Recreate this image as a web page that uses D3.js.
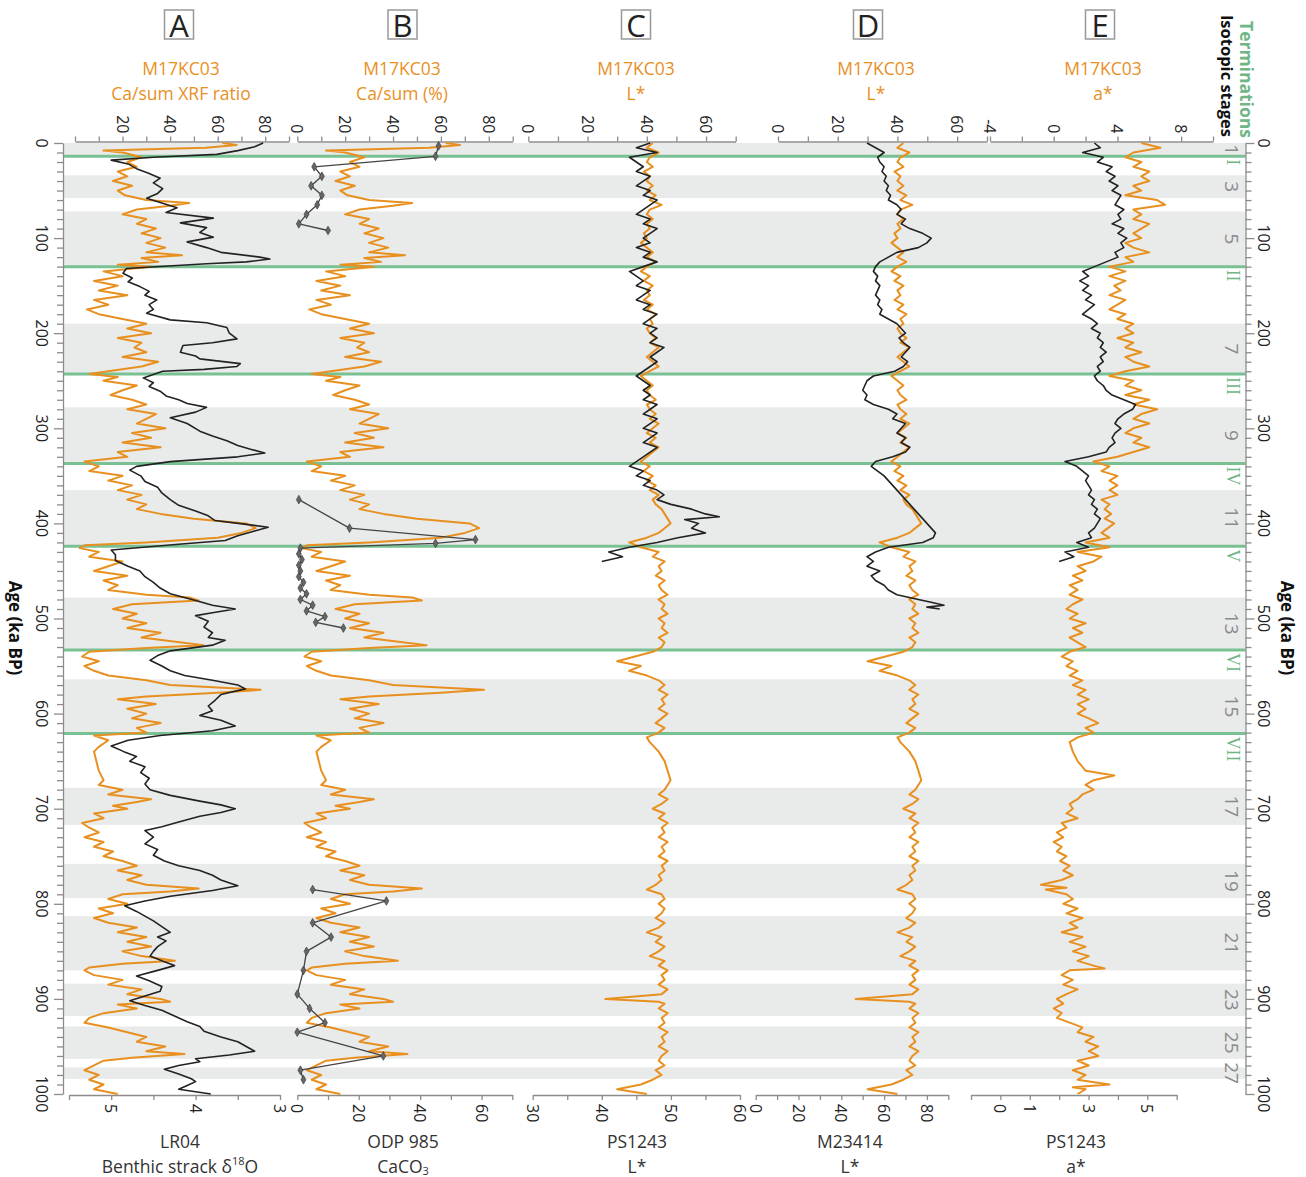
<!DOCTYPE html>
<html><head><meta charset="utf-8">
<script src="https://cdn.jsdelivr.net/npm/d3@7"></script>
<style>body{margin:0;background:#fff}svg{display:block}text{font-family:"Open Sans",sans-serif}</style>
</head><body><svg id="c" width="1306" height="1177"></svg>
<script>
// ---------------- DATA ----------------
const ageTicks = [0,100,200,300,400,500,600,700,800,900,1000];
const stageLabels = ["1","3","5","7","9","11","13","15","17","19","21","23","25","27"];
const stageBounds = [[0,14],[34,58],[72,130],[190,243],[278,337],[365,424],[478,533],[564,621],[678,717],[758,794],[813,870],[884,918],[929,963],[972,984]];
const terminationLabels = ["I","II","III","IV","V","VI","VII"];
const terminationAges = [14,130,243,337,424,533,621];

// M17KC03 Ca/sum (%) [age ka, value]
const caSum = [[0,62],[2,68],[5,55],[8,12],[10,20],[15,28],[20,22],[25,26],[30,18],[35,22],[40,16],[45,24],[50,18],[55,21],[60,30],[63,48],[66,40],[70,26],[75,20],[80,30],[85,26],[90,34],[95,28],[100,36],[105,30],[110,38],[115,30],[118,45],[121,28],[125,35],[128,18],[130,32],[135,12],[140,20],[145,8],[150,18],[155,10],[160,22],[165,8],[170,14],[175,5],[180,10],[185,20],[190,30],[195,22],[200,32],[205,18],[210,28],[215,25],[220,30],[225,20],[230,35],[235,28],[240,14],[243,6],[246,18],[250,12],[255,26],[260,20],[265,15],[270,24],[275,30],[280,22],[285,34],[290,30],[295,26],[300,38],[305,24],[310,32],[315,20],[320,36],[325,18],[330,22],[335,4],[340,10],[345,6],[350,20],[355,14],[360,24],[365,18],[370,28],[375,22],[380,30],[385,26],[390,36],[395,50],[400,72],[405,76],[410,70],[415,60],[420,30],[423,4],[426,2],[430,10],[435,6],[440,20],[445,14],[450,8],[455,22],[460,12],[465,18],[470,14],[475,30],[478,48],[481,52],[485,24],[490,16],[495,26],[500,20],[505,30],[510,22],[515,36],[520,28],[525,44],[528,54],[531,30],[535,6],[540,3],[545,10],[550,4],[555,8],[560,14],[565,30],[570,40],[575,78],[578,60],[582,30],[585,18],[590,34],[595,22],[600,30],[605,24],[610,36],[615,26],[620,30],[623,8],[628,14],[635,10],[640,8],[650,9],[660,10],[670,12],[675,10],[680,20],[685,14],[690,32],[693,26],[697,16],[700,22],[705,8],[710,12],[715,3],[720,6],[725,10],[730,4],[735,12],[740,8],[745,16],[750,12],[755,20],[760,26],[765,18],[770,28],[775,22],[780,30],[784,52],[787,40],[790,20],[795,14],[800,22],[805,10],[810,16],[815,8],[820,14],[825,26],[830,18],[835,30],[840,22],[845,32],[850,20],[855,28],[860,42],[863,20],[867,6],[870,4],[875,8],[880,20],[885,14],[890,28],[895,22],[900,36],[903,40],[906,18],[910,26],[915,12],[920,6],[925,4],[930,14],[935,22],[940,30],[945,26],[950,38],[955,30],[958,46],[962,24],[965,12],[970,8],[975,4],[980,10],[985,6],[990,12],[995,8],[1000,18]];

// M17KC03 L*
const lStar = [[0,42],[5,40],[10,44],[15,41],[20,40],[25,42],[30,39],[35,41],[40,40],[45,42],[50,40],[55,43],[60,41],[65,45],[70,41],[75,40],[80,42],[85,40],[90,41],[95,39],[100,40],[105,38],[110,40],[115,42],[120,40],[125,43],[130,40],[135,38],[140,41],[145,39],[150,42],[155,40],[160,41],[165,39],[170,42],[175,40],[180,43],[185,41],[190,42],[195,40],[200,41],[205,43],[210,41],[215,44],[220,42],[225,40],[230,42],[235,44],[240,41],[245,38],[250,40],[255,42],[260,40],[265,41],[270,43],[275,40],[280,41],[285,43],[290,41],[295,44],[300,42],[305,40],[310,43],[315,41],[320,44],[325,42],[330,40],[335,38],[340,41],[345,39],[350,42],[355,40],[360,43],[365,41],[370,44],[375,42],[380,43],[385,45],[390,46],[395,47],[400,48],[405,46],[410,44],[415,40],[420,34],[425,38],[430,44],[435,42],[440,46],[445,44],[450,45],[455,43],[460,46],[465,44],[470,45],[475,47],[480,44],[485,46],[490,45],[495,47],[500,44],[505,46],[510,45],[515,47],[520,44],[525,46],[530,45],[535,42],[540,36],[545,30],[550,38],[555,34],[560,40],[565,44],[570,46],[575,44],[580,47],[585,45],[590,46],[595,44],[600,47],[605,45],[610,43],[615,46],[620,44],[625,40],[630,41],[640,44],[650,46],[660,47],[670,48],[680,46],[685,44],[690,47],[695,45],[700,42],[705,46],[710,44],[715,47],[720,45],[725,46],[730,44],[735,47],[740,45],[745,46],[750,44],[755,47],[760,45],[765,46],[770,44],[775,45],[780,43],[785,40],[790,45],[795,46],[800,44],[805,46],[810,45],[815,43],[820,46],[825,44],[830,40],[835,45],[840,43],[845,46],[850,44],[855,41],[860,46],[865,44],[870,47],[875,45],[880,46],[885,44],[890,47],[895,45],[900,26],[903,44],[905,46],[910,44],[915,47],[920,45],[925,46],[930,44],[935,47],[940,45],[945,46],[950,44],[955,47],[960,45],[965,44],[970,46],[975,43],[980,45],[985,42],[990,38],[995,30],[1000,40]];

// M17KC03 a*
const aStar = [[0,5.5],[5,6.7],[10,5],[15,4.5],[20,5.5],[25,5],[30,6],[35,5.5],[40,6],[45,5],[50,5.5],[55,4.5],[60,6.5],[65,7],[70,5],[75,5.5],[80,5],[85,6],[90,5.5],[95,5],[100,5.5],[105,4.5],[110,5],[115,6],[120,4.5],[125,5],[130,3.5],[135,4.5],[140,3.5],[145,4.5],[150,3.8],[155,4.2],[160,3.5],[165,4.5],[170,4],[175,3.5],[180,4.5],[185,4],[190,5],[195,4.5],[200,5],[205,4],[210,5],[215,4.5],[220,5.5],[225,4.5],[230,5],[235,6],[240,4.5],[245,3.5],[250,5],[255,4.5],[260,5.5],[265,4.5],[270,6],[275,5],[280,6.5],[285,5.5],[290,5],[295,6],[300,5],[305,4.5],[310,5.5],[315,5],[320,6],[325,5],[330,4],[335,2.5],[340,3.5],[345,3],[350,4],[355,3.5],[360,4],[365,3.5],[370,4],[375,3],[380,3.5],[385,3.2],[390,3.6],[395,3.2],[400,3.8],[405,3.4],[410,3],[415,3.5],[420,2],[425,3.5],[430,1.5],[435,3],[440,2.5],[445,1.5],[450,2],[455,1.2],[460,1.8],[465,1],[470,1.5],[475,1],[480,1.8],[485,1.2],[490,0.8],[495,1.5],[500,1],[505,2],[510,1.2],[515,1.8],[520,1],[525,1.5],[530,2],[535,1],[540,0.5],[545,1.2],[550,0.8],[555,1.5],[560,1],[565,1.8],[570,1.2],[575,2],[580,1.5],[585,2.2],[590,1.5],[595,2],[600,1.5],[605,2.2],[610,2.8],[615,2],[620,2.5],[625,1.5],[630,1],[640,1.2],[650,1.5],[660,2],[665,3.8],[670,2.5],[675,2],[680,2.5],[685,1.8],[690,1.5],[695,1],[700,1.2],[705,0.8],[710,1.5],[715,0.5],[720,0.8],[725,0.2],[730,0.6],[735,0],[740,0.5],[745,0.2],[750,0.8],[755,0.4],[760,1],[765,0.6],[770,1.2],[775,0.5],[780,-0.8],[783,0.8],[785,-0.5],[790,0.8],[795,1.2],[800,0.6],[805,1.5],[810,0.8],[815,1.8],[820,1],[825,1.5],[830,0.5],[835,1.8],[840,1],[845,2],[850,1.2],[855,2.2],[860,1.5],[865,2.5],[868,3.2],[870,1],[875,0.5],[880,1.2],[885,0.6],[890,1.5],[895,0.8],[900,0.2],[905,0.6],[910,0],[915,0.5],[920,0.2],[925,1],[930,1.8],[935,1.5],[940,2.5],[945,2],[950,2.8],[955,2.2],[960,2.8],[965,1.5],[970,2.2],[975,1.2],[980,2],[985,1.5],[990,3.5],[993,1.2],[995,2],[1000,1.5]];

// LR04 benthic stack d18O
const lr04 = [[0,3.2],[4,3.3],[8,3.5],[12,3.75],[15,4.5],[18,5.0],[22,4.8],[27,4.7],[32,4.55],[37,4.42],[42,4.5],[48,4.39],[53,4.45],[58,4.58],[63,4.4],[68,4.22],[73,4.35],[79,3.79],[84,4.18],[89,3.87],[94,3.95],[99,3.79],[104,4.1],[110,3.87],[115,3.7],[120,3.24],[122,3.12],[125,3.4],[127,3.87],[132,4.82],[137,4.86],[142,4.75],[146,4.8],[151,4.66],[156,4.55],[160,4.6],[165,4.46],[170,4.55],[175,4.5],[179,4.58],[186,4.3],[189,3.87],[194,3.63],[200,3.6],[206,3.51],[210,3.8],[213,4.15],[220,4.18],[224,4.0],[227,3.95],[232,3.47],[235,3.51],[238,3.9],[240,4.39],[247,4.62],[252,4.5],[256,4.55],[261,4.42],[266,4.35],[270,4.2],[274,4.1],[278,3.87],[283,4.0],[289,4.3],[295,4.1],[303,3.95],[308,3.8],[313,3.63],[318,3.5],[322,3.35],[326,3.18],[330,3.5],[335,4.3],[340,4.7],[344,4.78],[350,4.65],[356,4.6],[362,4.45],[368,4.4],[375,4.3],[381,4.2],[387,4.0],[392,3.85],[397,3.77],[401,3.4],[404,3.14],[408,3.3],[413,3.5],[418,3.65],[422,4.2],[428,5.0],[433,4.95],[439,4.95],[445,4.8],[450,4.66],[456,4.6],[462,4.5],[468,4.42],[474,4.3],[481,4.0],[486,3.8],[490,3.53],[494,3.8],[497,4.0],[503,3.85],[509,3.9],[515,3.8],[520,3.85],[523,3.65],[528,3.8],[534,4.3],[539,4.45],[544,4.54],[550,4.4],[555,4.3],[560,4.13],[565,3.8],[570,3.5],[574,3.41],[580,3.7],[586,3.77],[592,3.85],[597,3.8],[602,3.95],[607,3.7],[613,3.53],[618,3.8],[623,4.42],[628,4.8],[634,5.0],[640,4.85],[645,4.7],[650,4.78],[656,4.6],[662,4.65],[668,4.55],[674,4.6],[680,4.54],[686,4.3],[692,3.95],[696,3.7],[700,3.53],[704,3.7],[708,3.95],[714,4.2],[719,4.4],[723,4.6],[730,4.5],[737,4.6],[743,4.45],[749,4.5],[755,4.37],[760,4.2],[765,3.95],[770,3.8],[775,3.7],[781,3.5],[786,3.8],[792,4.3],[797,4.6],[802,4.84],[808,4.7],[813,4.6],[818,4.5],[824,4.4],[830,4.3],[835,4.45],[839,4.35],[845,4.45],[850,4.5],[855,4.54],[860,4.4],[865,4.25],[870,4.45],[876,4.7],[881,4.55],[887,4.4],[892,4.42],[897,4.6],[902,4.78],[907,4.6],[912,4.4],[918,4.25],[924,4.1],[929,3.95],[934,3.9],[940,3.7],[945,3.5],[950,3.4],[955,3.3],[959,3.6],[963,4.0],[966,3.95],[970,4.2],[974,4.37],[979,4.2],[984,4.05],[987,4.0],[991,4.1],[995,4.2],[1000,3.82]];

// ODP 985 CaCO3 (%), three sampled intervals
const odp985a = [[3,46],[14,45],[25,5.5],[35,8],[45,4.5],[55,8],[65,6.5],[75,3],[85,0.5],[92,10]];
const odp985b = [[375,0.5],[405,17],[417,58],[421,45],[426,1],[432,0.5],[438,1.5],[444,0.5],[450,1],[456,0.5],[462,2],[468,1],[474,3],[480,1],[486,5],[492,3],[498,9],[504,6],[510,15]];
const odp985c = [[785,5],[797,29],[820,5],[835,11],[850,3],[870,2],[895,0],[910,4],[925,9],[935,0],[960,28],[975,1],[985,2]];

// PS1243 L*
const ps1243L = [[0,47],[5,45],[10,48],[15,44],[20,45],[25,46],[30,45],[35,47],[40,46],[45,45],[50,47],[55,46],[60,48],[65,47],[70,46],[75,45],[80,47],[85,46],[90,48],[95,47],[100,46],[105,47],[110,45],[115,47],[120,46],[125,48],[130,46],[135,44],[140,45],[145,46],[150,45],[155,47],[160,46],[165,45],[170,47],[175,46],[180,48],[185,47],[190,46],[195,48],[200,47],[205,48],[210,47],[215,49],[220,48],[225,47],[230,48],[235,47],[240,46],[245,45],[250,46],[255,47],[260,46],[265,47],[270,46],[275,48],[280,47],[285,46],[290,48],[295,47],[300,46],[305,48],[310,47],[315,46],[320,48],[325,47],[330,46],[335,45],[340,44],[345,46],[350,45],[355,47],[360,46],[365,48],[370,49],[375,48],[380,50],[385,53],[390,55],[393,57],[396,52],[400,54],[405,53],[410,55],[415,51],[420,48],[425,44],[430,41],[435,43],[440,40]];

// M23414 L*
const m23414L = [[0,52],[5,56],[10,60],[15,57],[20,58],[25,60],[30,59],[35,61],[40,60],[45,62],[50,61],[55,63],[60,62],[65,66],[70,68],[75,66],[80,70],[85,68],[90,72],[95,78],[100,82],[105,80],[110,76],[115,66],[120,62],[125,58],[130,56],[135,55],[140,57],[145,56],[150,58],[155,57],[160,56],[165,58],[170,57],[175,59],[180,58],[185,62],[190,66],[195,68],[200,70],[205,67],[210,69],[215,72],[220,70],[225,68],[230,71],[235,69],[240,65],[245,55],[250,52],[255,51],[260,50],[265,52],[270,51],[275,55],[280,62],[285,66],[290,64],[295,70],[300,68],[305,66],[310,70],[315,68],[320,72],[325,70],[330,64],[335,56],[340,54],[345,57],[350,60],[355,62],[360,64],[365,66],[370,68],[375,70],[380,72],[385,74],[390,76],[395,78],[400,80],[405,82],[410,84],[415,83],[420,78],[425,62],[430,56],[435,52],[440,55],[445,52],[450,58],[455,54],[460,56],[465,60],[470,62],[475,66],[480,76],[483,82],[486,88],[488,80],[490,86]];

// PS1243 a*
const ps1243a = [[0,3.2],[5,3.4],[10,2.8],[15,3.5],[20,3.3],[25,3.8],[30,3.6],[35,3.9],[40,3.7],[45,4],[50,3.8],[55,4.1],[60,4],[65,3.9],[70,4.2],[75,4],[80,4.1],[85,3.8],[90,4.2],[95,4],[100,4.3],[105,4.1],[110,4.2],[115,3.9],[120,4],[125,3.6],[130,3.2],[135,2.8],[140,3],[145,2.7],[150,3],[155,2.8],[160,3.1],[165,2.9],[170,3.2],[175,3],[180,2.8],[185,3.1],[190,3.3],[195,3.1],[200,3.4],[205,3.3],[210,3.5],[215,3.4],[220,3.6],[225,3.4],[230,3.5],[235,3.3],[240,3.4],[245,3.2],[250,3.3],[255,3.5],[260,3.6],[265,3.8],[270,4.2],[275,4.6],[280,4.5],[285,4.2],[290,4],[295,3.9],[300,4.1],[305,3.9],[310,3.8],[315,3.9],[320,3.7],[325,3.6],[330,3],[335,2.2],[340,2.6],[345,2.8],[350,3],[355,2.9],[360,3],[365,3.1],[370,3],[375,3.2],[380,3.1],[385,3.3],[390,3.2],[395,3.4],[400,3.3],[405,3.2],[410,3],[415,3.1],[420,2.6],[425,3],[430,2.2],[435,2.5],[440,2]];

// axis tick values / labels
const aTopTicks = [0,10,20,30,40,50,60,70,80,90],       aTopLabels = [20,40,60,80];
const aBotTicks = [5.5,5,4.5,4,3.5,3],                  aBotLabels = [5,4,3];
const bTopTicks = [0,10,20,30,40,50,60,70,80,90],       bTopLabels = [0,20,40,60,80];
const bBotTicks = [0,10,20,30,40,50,60,70],             bBotLabels = [0,20,40,60];
const cTopTicks = [0,10,20,30,40,50,60,70],             cTopLabels = [0,20,40,60];
const cBotTicks = [30,35,40,45,50,55,60],               cBotLabels = [30,40,50,60];
const dTopTicks = [0,10,20,30,40,50,60,70],             dTopLabels = [0,20,40,60];
const dBotTicks = [0,10,20,30,40,50,60,70,80,90],       dBotLabels = [0,20,40,60,80];
const eTopTicks = [-4,-2,0,2,4,6,8,10],                 eTopLabels = [-4,0,4,8];
const eBotTicks = [-1,0,1,2,3,4,5,6],                   eBotLabels = [0,1,3,5];

// ---------------- DRAWING ----------------
const ORANGE = "#e8901f", BLACK = "#222", GREEN = "#79c193", BAND = "#e9eaea", AXIS = "#8c8c8c";
const svg = d3.select("#c");
const y = d3.scaleLinear().domain([0,1000]).range([143,1094]);
const X0 = 63, X1 = 1245.5;

// bands
svg.append("g").selectAll("rect").data(stageBounds).join("rect")
  .attr("x", X0).attr("width", X1 - X0)
  .attr("y", d => y(d[0])).attr("height", d => y(d[1]) - y(d[0]))
  .attr("fill", BAND);

// stage labels
svg.append("g").selectAll("text").data(stageBounds).join("text")
  .attr("transform", d => `translate(1232,${y((d[0]+d[1])/2)}) rotate(90)`)
  .attr("text-anchor","middle").attr("dominant-baseline","central")
  .attr("font-size",19).attr("fill","#8a8a8a")
  .text((d,i) => stageLabels[i]);

// termination lines
svg.append("g").selectAll("line").data(terminationAges).join("line")
  .attr("x1", X0).attr("x2", X1).attr("y1", d => y(d)).attr("y2", d => y(d))
  .attr("stroke", GREEN).attr("stroke-width", 3);
svg.append("g").selectAll("text").data(terminationAges).join("text")
  .attr("transform", d => `translate(1233,${y(d)+3}) rotate(90)`)
  .attr("text-anchor","start").attr("dominant-baseline","central")
  .attr("font-size",18).attr("fill","#6fb585").style("font-family","'Liberation Serif',serif")
  .text((d,i) => terminationLabels[i]);

// panels
const panels = [
  {L:"A", cx:179, top:{dom:[0,90], rng:[75,289], ticks:aTopTicks, labels:aTopLabels}, bot:{dom:[5.5,3], rng:[69,280], ticks:aBotTicks, labels:aBotLabels},
   topTitle:["M17KC03","Ca/sum XRF ratio"], botTitle:["LR04", "bent"], tcx:181, bcx:180, orange:caSum, black:[lr04], markers:false},
  {L:"B", cx:402.5, top:{dom:[0,90], rng:[297.3,512.7], ticks:bTopTicks, labels:bTopLabels}, bot:{dom:[0,70], rng:[297.3,512.3], ticks:bBotTicks, labels:bBotLabels},
   topTitle:["M17KC03","Ca/sum (%)"], botTitle:["ODP 985","caco"], tcx:402, bcx:403, orange:caSum, black:[odp985a,odp985b,odp985c], markers:true},
  {L:"C", cx:636, top:{dom:[0,70], rng:[528.3,735.7], ticks:cTopTicks, labels:cTopLabels}, bot:{dom:[30,60], rng:[532.7,740], ticks:cBotTicks, labels:cBotLabels},
   topTitle:["M17KC03","L*"], botTitle:["PS1243","L*"], tcx:636, bcx:637, orange:lStar, black:[ps1243L], markers:false},
  {L:"D", cx:868, top:{dom:[0,70], rng:[778,987], ticks:dTopTicks, labels:dTopLabels}, bot:{dom:[0,90], rng:[755.7,948.3], ticks:dBotTicks, labels:dBotLabels},
   topTitle:["M17KC03","L*"], botTitle:["M23414","L*"], tcx:876, bcx:850, orange:lStar, black:[m23414L], markers:false},
  {L:"E", cx:1100, top:{dom:[-4,10], rng:[990,1213], ticks:eTopTicks, labels:eTopLabels}, bot:{dom:[-1,6], rng:[971,1176.7], ticks:eBotTicks, labels:eBotLabels},
   topTitle:["M17KC03","a*"], botTitle:["PS1243","a*"], tcx:1103, bcx:1076, orange:aStar, black:[ps1243a], markers:false}
];

const TOPY = 141.5, BOTY = 1095;
panels.forEach(p => {
  const xt = d3.scaleLinear().domain(p.top.dom).range(p.top.rng);
  const xb = d3.scaleLinear().domain(p.bot.dom).range(p.bot.rng);

  const gt = svg.append("g").attr("transform",`translate(0,${TOPY})`)
    .call(d3.axisTop(xt).tickValues(p.top.ticks).tickSize(5).tickSizeOuter(0).tickFormat(""));
  gt.selectAll("path,line").attr("stroke",AXIS).attr("stroke-width",1.3);
  svg.append("g").selectAll("text").data(p.top.labels).join("text")
    .attr("transform", d => `translate(${xt(d)},${TOPY-8}) rotate(90)`)
    .attr("text-anchor","end").attr("dominant-baseline","central")
    .attr("font-size",16).attr("fill","#222").text(d => d);

  const gb = svg.append("g").attr("transform",`translate(0,${BOTY})`)
    .call(d3.axisBottom(xb).tickValues(p.bot.ticks).tickSize(5).tickSizeOuter(0).tickFormat(""));
  gb.selectAll("path,line").attr("stroke",AXIS).attr("stroke-width",1.3);
  svg.append("g").selectAll("text").data(p.bot.labels).join("text")
    .attr("transform", d => `translate(${xb(d)},${BOTY+9}) rotate(90)`)
    .attr("text-anchor","start").attr("dominant-baseline","central")
    .attr("font-size",16).attr("fill","#222").text(d => d);

  svg.append("path").datum(p.orange)
    .attr("d", d3.line().x(d => xt(d[1])).y(d => y(d[0])))
    .attr("fill","none").attr("stroke",ORANGE).attr("stroke-width",2).attr("stroke-linejoin","round");
  p.black.forEach(seg => {
    svg.append("path").datum(seg)
      .attr("d", d3.line().x(d => xb(d[1])).y(d => y(d[0])))
      .attr("fill","none").attr("stroke",p.markers ? "#444" : BLACK).attr("stroke-width",p.markers?1.3:1.6).attr("stroke-linejoin","round");
    if (p.markers) {
      svg.append("g").selectAll("path").data(seg).join("path")
        .attr("transform", d => `translate(${xb(d[1])},${y(d[0])})`)
        .attr("d", d3.symbol(d3.symbolDiamond, 22))
        .attr("fill","#666").attr("stroke","#333").attr("stroke-width",0.6);
    }
  });

  svg.append("rect").attr("x",p.cx-14.5).attr("y",10).attr("width",29).attr("height",29)
    .attr("fill","none").attr("stroke","#999").attr("stroke-width",1.5);
  svg.append("text").attr("x",p.cx).attr("y",25).attr("text-anchor","middle").attr("dominant-baseline","central")
    .attr("font-size",31).attr("fill","#222").text(p.L);

  p.topTitle.forEach((t,i) => svg.append("text").attr("x",p.tcx).attr("y",68+i*25)
    .attr("text-anchor","middle").attr("dominant-baseline","central").attr("font-size",17.5).attr("fill",ORANGE).text(t));
  const b1 = svg.append("text").attr("x",p.bcx).attr("y",1141).attr("text-anchor","middle").attr("dominant-baseline","central")
    .attr("font-size",17.5).attr("fill","#333").text(p.botTitle[0]);
  const b2 = svg.append("text").attr("x",p.bcx).attr("y",1166).attr("text-anchor","middle").attr("dominant-baseline","central")
    .attr("font-size",17.5).attr("fill","#333");
  if (p.botTitle[1] === "bent") {
    b2.append("tspan").text("Benthic strack δ");
    b2.append("tspan").attr("font-size",11).attr("dy",-6).text("18");
    b2.append("tspan").attr("dy",6).text("O");
  } else if (p.botTitle[1] === "caco") {
    b2.append("tspan").text("CaCO");
    b2.append("tspan").attr("font-size",11).attr("dy",4).text("3");
  } else b2.text(p.botTitle[1]);
});

// age axes (left and right)
const gl = svg.append("g").attr("transform",`translate(${X0},0)`)
  .call(d3.axisLeft(y).ticks(100).tickSize(6).tickSizeOuter(0).tickFormat(""));
gl.selectAll("path,line").attr("stroke",AXIS).attr("stroke-width",1.3);
gl.selectAll(".tick line").filter(d => d % 100 === 0).attr("x2",-9);
const gr = svg.append("g").attr("transform",`translate(${X1},0)`)
  .call(d3.axisRight(y).ticks(100).tickSize(6).tickSizeOuter(0).tickFormat(""));
gr.selectAll("path,line").attr("stroke",AXIS).attr("stroke-width",1.3);
gr.selectAll(".tick line").filter(d => d % 100 === 0).attr("x2",9);

[42, 1264].forEach(xp => {
  svg.append("g").selectAll("text").data(ageTicks).join("text")
    .attr("transform", d => `translate(${xp},${y(d)}) rotate(90)`)
    .attr("text-anchor","middle").attr("dominant-baseline","central")
    .attr("font-size",16).attr("fill","#222").text(d => d);
});
[15, 1287].forEach(xp => {
  svg.append("text").attr("transform",`translate(${xp},628) rotate(90)`)
    .attr("text-anchor","middle").attr("dominant-baseline","central")
    .attr("font-size",17).attr("font-weight","bold").attr("fill","#111").text("Age (ka BP)");
});
svg.append("text").attr("transform",`translate(1227,137) rotate(90)`)
  .attr("text-anchor","end").attr("dominant-baseline","central")
  .attr("font-size",16.5).attr("font-weight","bold").attr("fill","#111").text("Isotopic stages");
svg.append("text").attr("transform",`translate(1247,138) rotate(90)`)
  .attr("text-anchor","end").attr("dominant-baseline","central")
  .attr("font-size",17.5).attr("font-weight","bold").attr("fill","#6fb585").text("Terminations");
</script></body></html>
